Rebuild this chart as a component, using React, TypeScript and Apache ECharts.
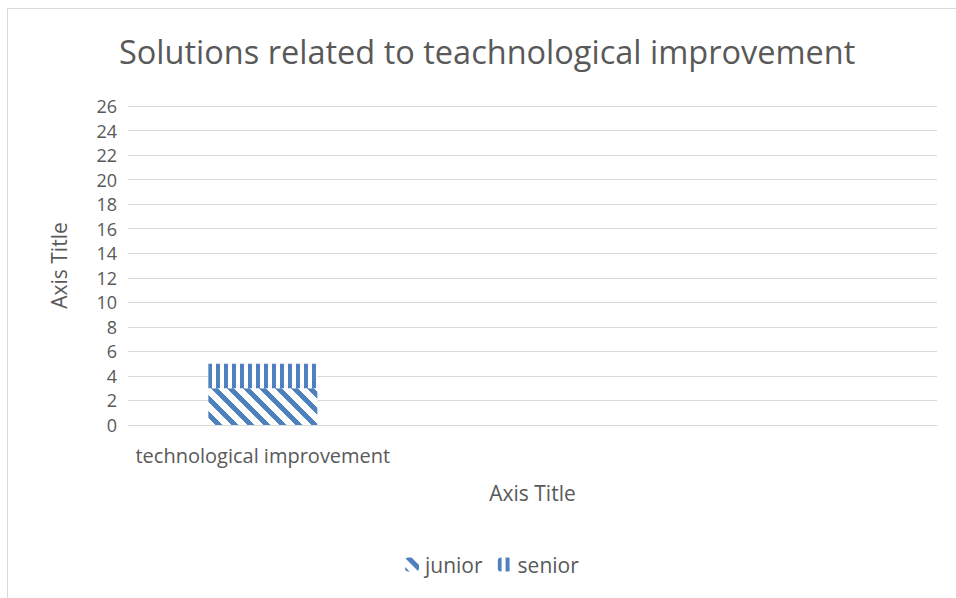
import React, { useEffect, useRef } from "react";
import * as echarts from "echarts";

const titleText = "Solutions related to teachnological improvement";
const categories = ["technological improvement", "", ""];
const juniorValues: (number | null)[] = [3, null, null];
const seniorValues: (number | null)[] = [2, null, null];
const seriesNames = ["junior", "senior"];

const BLUE = "#4f81bd";
const FONT = "'Open Sans', sans-serif";

function makePattern(kind: "diag" | "vert") {
  const c = document.createElement("canvas");
  const size = kind === "diag" ? 16 : 8;
  c.width = size;
  c.height = size;
  const ctx = c.getContext("2d")!;
  ctx.fillStyle = "#ffffff";
  ctx.fillRect(0, 0, size, size);
  ctx.fillStyle = BLUE;
  for (let y = 0; y < size; y++) {
    for (let x = 0; x < size; x++) {
      if (kind === "diag") {
        if ((((x - y) % size) + size) % size < 7) ctx.fillRect(x, y, 1, 1);
      } else {
        if (x % 8 < 4) ctx.fillRect(x, y, 1, 1);
      }
    }
  }
  return { image: c, repeat: "repeat" } as any;
}

export default function App() {
  const ref = useRef<HTMLDivElement>(null);
  useEffect(() => {
    if (!ref.current) return;
    const chart = echarts.init(ref.current, undefined, { renderer: "svg" });
    const diag = makePattern("diag");
    const vert = makePattern("vert");
    chart.setOption({
      animation: false,
      backgroundColor: "#ffffff",
      title: {
        text: titleText,
        left: 106,
        top: 21,
        textStyle: { fontFamily: FONT, fontSize: 32.5, fontWeight: "normal", color: "#595959" },
      },
      grid: { left: 120, right: 19, top: 97, bottom: 173, containLabel: false },
      legend: {
        bottom: 18,
        left: 392,
        itemWidth: 14,
        itemHeight: 14,
        itemGap: 15,
        textStyle: { fontFamily: FONT, fontSize: 21, color: "#595959", padding: [0, 0, 0, 1] },
        data: seriesNames,
      },
      xAxis: {
        type: "category",
        data: categories,
        name: "Axis Title",
        nameLocation: "middle",
        nameGap: 57,
        nameTextStyle: { fontFamily: FONT, fontSize: 21, color: "#595959" },
        axisLine: { show: true, lineStyle: { color: "#d9d9d9", width: 1 } },
        axisTick: { show: false },
        axisLabel: { fontFamily: FONT, fontSize: 20, color: "#595959", margin: 20, interval: 0 },
      },
      yAxis: {
        type: "value",
        min: 0,
        max: 26,
        interval: 2,
        name: "Axis Title",
        nameLocation: "middle",
        nameGap: 59,
        nameRotate: 90,
        nameTextStyle: { fontFamily: FONT, fontSize: 21, color: "#595959" },
        axisLine: { show: false },
        axisTick: { show: false },
        axisLabel: { fontFamily: FONT, fontSize: 18, color: "#595959", margin: 11 },
        splitLine: { lineStyle: { color: "#d9d9d9", width: 1 } },
      },
      series: [
        {
          name: seriesNames[0],
          type: "bar",
          stack: "total",
          barWidth: 109,
          data: juniorValues,
          itemStyle: { color: diag },
        },
        {
          name: seriesNames[1],
          type: "bar",
          stack: "total",
          barWidth: 109,
          data: seniorValues,
          itemStyle: { color: vert },
        },
      ],
    });
    return () => chart.dispose();
  }, []);
  return (
    <div
      style={{
        position: "fixed",
        left: 7,
        top: 8,
        width: 949,
        height: 590,
        borderLeft: "1px solid #d9d9d9",
        borderTop: "1px solid #d9d9d9",
        boxSizing: "border-box",
        background: "#fff",
      }}
    >
      <div ref={ref} style={{ width: 948, height: 589 }} />
    </div>
  );
}
